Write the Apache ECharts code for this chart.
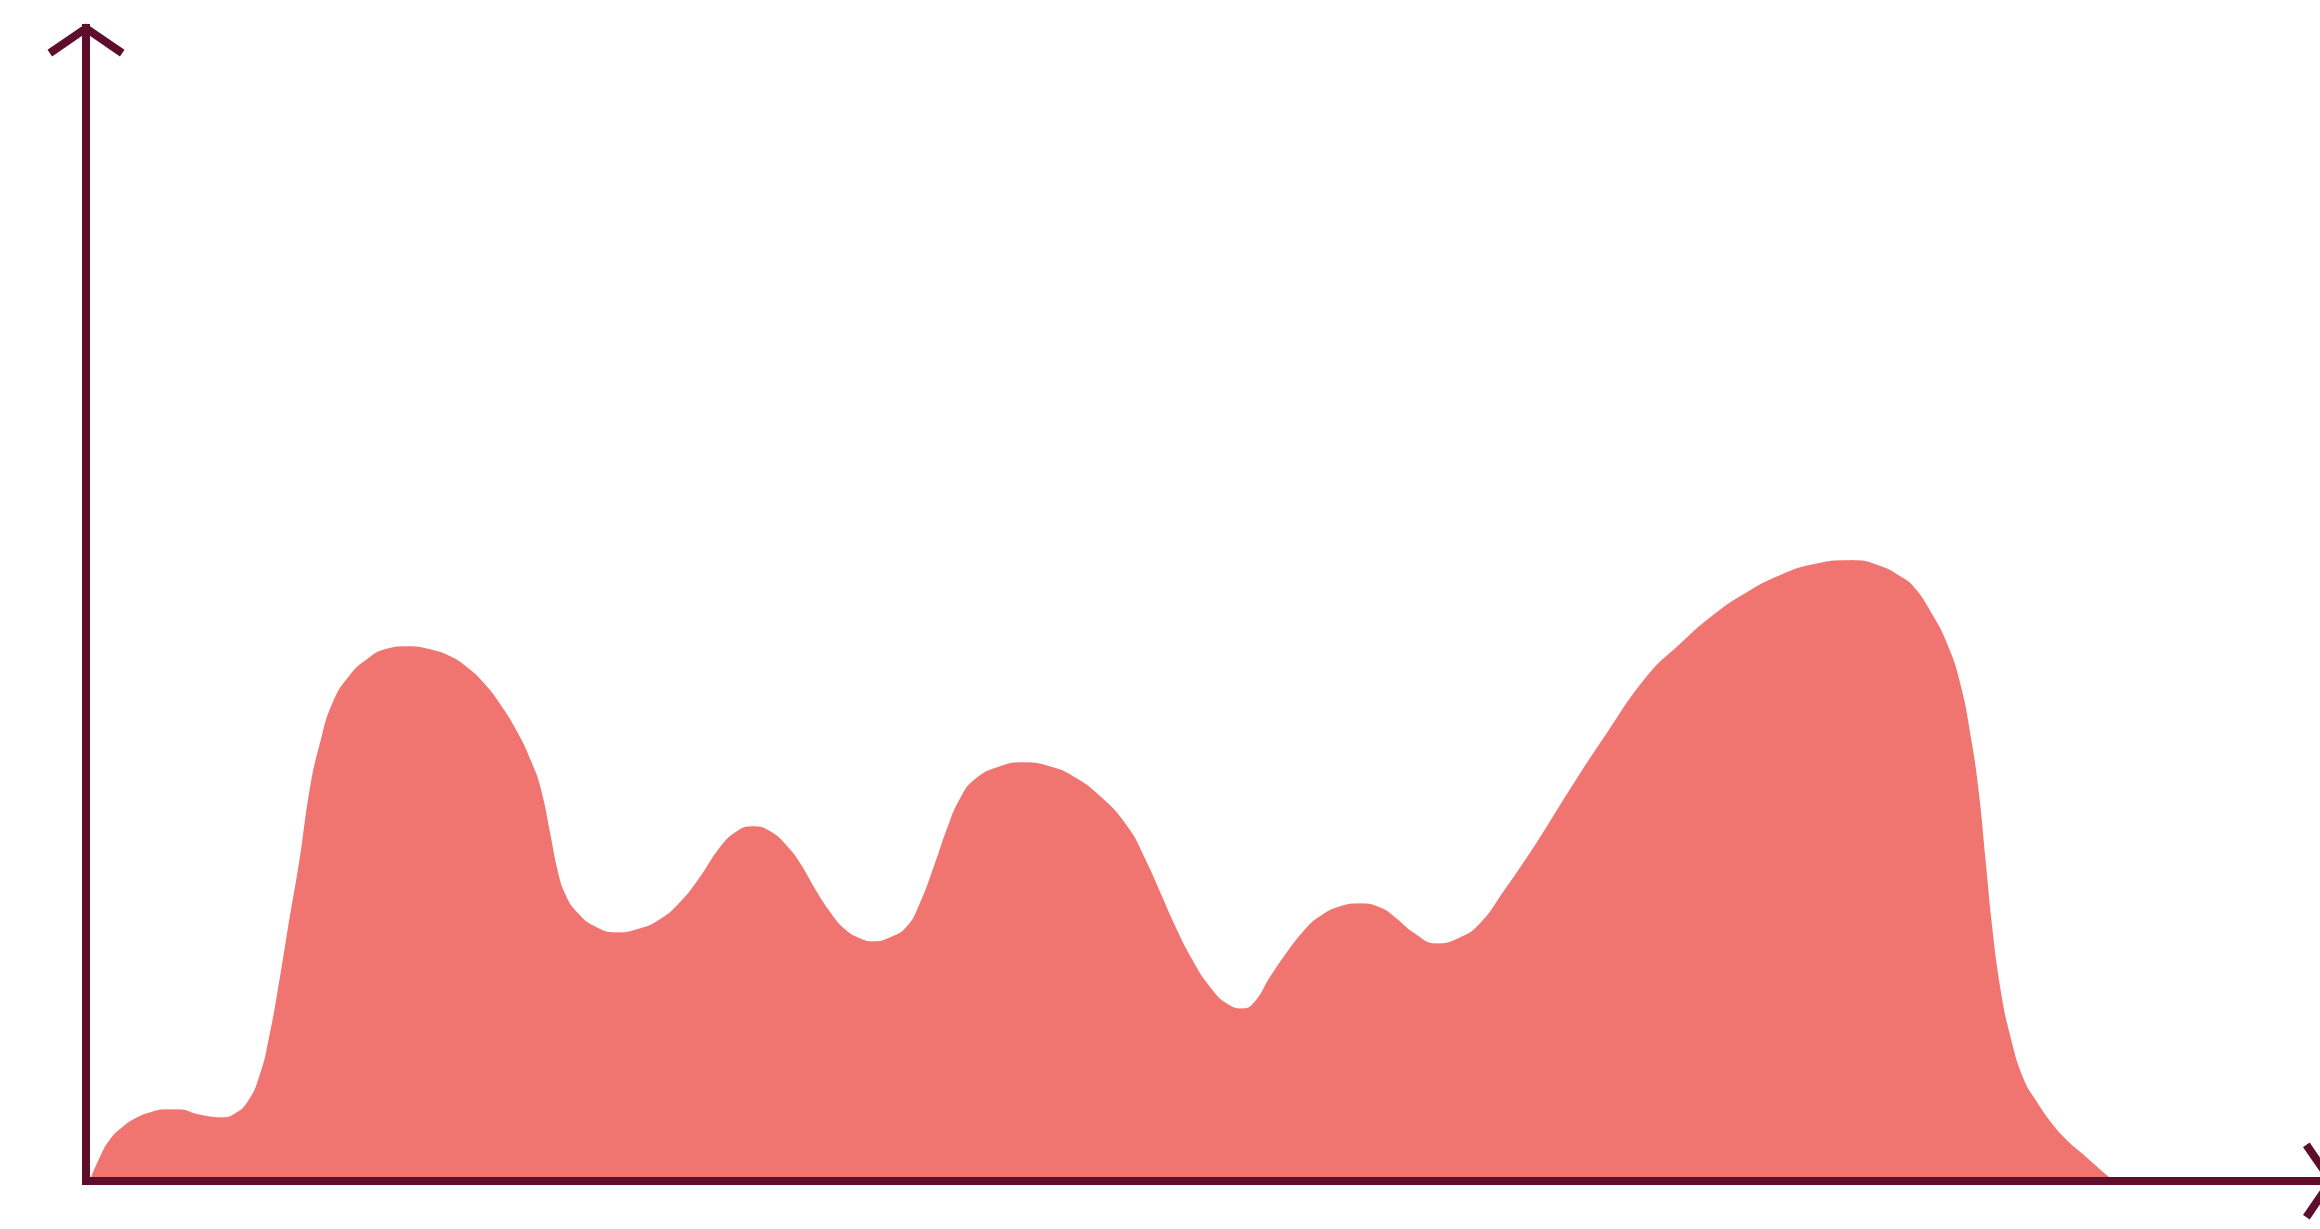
<!DOCTYPE html>
<html>
<head>
<meta charset="utf-8">
<script src="https://cdn.jsdelivr.net/npm/echarts@6/dist/echarts.min.js"></script>
<style>
html,body{margin:0;padding:0;background:#ffffff;overflow:hidden;}
#chart{width:2320px;height:1229px;}
</style>
</head>
<body>
<div id="chart"></div>
<script>
// Density curve (x: 0-100 along axis, y: 0-100 up the axis)
const xValues = [0.18,0.62,1.07,1.6,2.18,2.84,3.51,4.18,4.84,5.51,6.04,6.62,7.2,7.73,8.18,8.62,9.07,9.51,9.96,10.4,10.98,11.73,12.49,13.29,14.31,15.29,16.18,16.93,17.64,18.4,19.16,19.73,20.18,20.62,20.93,21.29,21.82,22.62,23.6,24.62,25.51,26.4,27.29,28.18,28.93,29.64,30.4,31.16,31.73,32.4,33.07,33.73,34.4,34.98,35.73,36.49,37.07,37.73,38.27,38.84,39.51,40.62,41.64,42.84,43.87,45.07,46.27,47.07,47.73,48.4,49.07,49.96,50.76,51.42,51.96,52.62,53.38,54.18,54.84,55.73,56.62,57.51,58.18,58.98,60.04,61.07,61.96,62.98,64.49,65.96,67.42,69.38,70.84,72.31,73.82,75.29,76.76,78.53,79.73,80.62,81.2,81.96,82.71,83.29,83.73,84.09,84.4,84.71,85.07,85.51,86.09,86.71,87.29,88.04,88.76,89.51,90.09];
const yValues = [0,1.99,3.54,4.58,5.36,5.88,6.14,6.14,5.79,5.53,5.45,5.79,6.83,9.08,12.62,17.37,22.73,27.74,33.79,37.68,41.31,43.65,45.03,45.89,46.15,45.89,45.29,44.34,43.04,41.14,38.72,36.39,33.97,29.91,26.88,24.72,23.16,21.95,21.43,21.78,22.56,24.03,26.19,28.78,30.17,30.6,30.17,28.87,27.4,25.15,23.16,21.69,20.92,20.66,21.0,21.95,23.94,27.31,30.34,32.93,34.66,35.78,36.13,35.78,34.92,33.19,30.6,27.74,24.89,21.95,19.36,16.68,15.21,14.87,15.47,17.55,19.71,21.69,22.82,23.68,23.94,23.6,22.73,21.43,20.48,21.0,22.21,24.89,29.21,33.79,38.12,43.56,46.33,48.83,50.82,52.29,53.24,53.59,53.1,52.2,51.34,49.18,46.33,42.87,38.55,33.79,27.74,21.69,16.51,12.45,8.82,6.74,5.1,3.46,2.25,0.95,0];

const axisColor = '#5E0E2B';
const fillColor = '#F07571';
// open chevron arrow head (stroke about 8px thick)
const chevron = 'path://M42 0 L80.5 26.3 L75.9 33 L42 9.6 L8.1 33 L3.5 26.3 Z';

const seriesData = xValues.map((x, i) => [x, yValues[i]]);

const chart = echarts.init(document.getElementById('chart'), null, {renderer: 'canvas', devicePixelRatio: 2});
chart.setOption({
  animation: false,
  backgroundColor: '#ffffff',
  grid: {left: 86, top: 28, bottom: 48, right: -16, containLabel: false, outerBoundsMode: 'none'},
  xAxis: {
    type: 'value', min: 0, max: 100, z: 5,
    axisLine: {show: true, lineStyle: {color: axisColor, width: 8, cap: 'square'},
      symbol: ['none', chevron], symbolSize: [77, 33], symbolOffset: [0, -16.5]},
    axisTick: {show: false}, axisLabel: {show: false}, splitLine: {show: false}
  },
  yAxis: {
    type: 'value', min: 0, max: 99.6, z: 5,
    axisLine: {show: true, lineStyle: {color: axisColor, width: 8, cap: 'square'},
      symbol: ['none', chevron], symbolSize: [77, 33], symbolOffset: [0, -12]},
    axisTick: {show: false}, axisLabel: {show: false}, splitLine: {show: false}
  },
  series: [{
    type: 'line',
    data: seriesData,
    smooth: true,
    showSymbol: false,
    symbol: 'none',
    lineStyle: {color: fillColor, width: 1},
    itemStyle: {color: fillColor},
    areaStyle: {color: fillColor, opacity: 1}
  }]
});
</script>
</body>
</html>
